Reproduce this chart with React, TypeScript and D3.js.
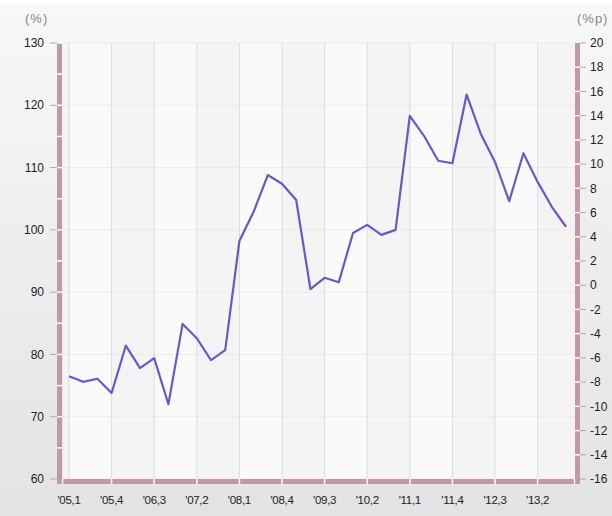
import React from 'react';
import * as d3 from 'd3';

// quarters '05,1 .. '13,4
const years = ['05', '06', '07', '08', '09', '10', '11', '12', '13'];
const quarters = years.flatMap(y => [1, 2, 3, 4].map(q => `'${y},${q}`));

// index (%) per quarter
const values = [
  76.5, 75.6, 76.1, 73.8, 81.4, 77.8, 79.4, 72.0,
  84.9, 82.6, 79.1, 80.7, 98.2, 102.9, 108.8, 107.4,
  104.8, 90.5, 92.3, 91.6, 99.5, 100.8, 99.2, 100.0,
  118.3, 115.1, 111.1, 110.7, 121.7, 115.4, 110.9, 104.6,
  112.3, 107.7, 103.7, 100.5,
];

const leftTicks = [60, 70, 80, 90, 100, 110, 120, 130];
const rightTicks = [-16, -14, -12, -10, -8, -6, -4, -2, 0, 2, 4, 6, 8, 10, 12, 14, 16, 18, 20];
const labelEvery = 3;

const W = 612, H = 516;
const plot = { left: 63, right: 575, top: 43, bottom: 479 };
const barW = 5;
const pink = '#bf9aa4';
const font = '"Liberation Sans", Arial, sans-serif';

const App = () => {
  const x = d3.scaleLinear().domain([0, quarters.length - 1]).range([69, 566]);
  const y = d3.scaleLinear().domain([60, 130]).range([plot.bottom, plot.top]);
  const y2 = d3.scaleLinear().domain([-16, 20]).range([plot.bottom, plot.top]);

  const line = d3.line<number>()
    .x((_, i) => x(i))
    .y(d => y(d));

  const labelIdx = quarters.map((_, i) => i).filter(i => i % labelEvery === 0);
  const halfTicks = d3.range(60, 131, 5);

  // alternating column bands between grid lines
  const bandEdges = [plot.left, ...labelIdx.map(i => x(i)), plot.right];

  return (
    <svg width={W} height={H} style={{ position: 'absolute', left: 0, top: 0 }} fontFamily={font}>
      <defs>
        <linearGradient id="bg" x1="0" y1="0" x2="0" y2="1">
          <stop offset="0" stopColor="#f8f8f8" />
          <stop offset="1" stopColor="#e3e3e3" />
        </linearGradient>
      </defs>
      <rect x={0} y={0} width={W} height={H} fill="url(#bg)" />
      <rect x={0} y={0} width={W} height={5} fill="#ffffff" />

      {/* plot area */}
      <rect x={plot.left} y={plot.top} width={plot.right - plot.left} height={plot.bottom - plot.top} fill="#f8f8f8" />
      {bandEdges.slice(0, -1).map((x0, i) => (
        <rect key={i} x={x0} y={plot.top} width={bandEdges[i + 1] - x0} height={plot.bottom - plot.top}
          fill={i % 2 === 1 ? '#fafafa' : '#f4f4f4'} />
      ))}

      {/* horizontal grid */}
      {leftTicks.map(t => (
        <line key={t} x1={plot.left} x2={plot.right} y1={y(t)} y2={y(t)} stroke="#ebebeb" />
      ))}
      {/* vertical grid */}
      {labelIdx.map(i => (
        <line key={i} x1={x(i)} x2={x(i)} y1={plot.top} y2={plot.bottom} stroke="#dcdcdc" />
      ))}

      {/* left axis bar */}
      <rect x={plot.left - barW - 1} y={plot.top} width={barW} height={plot.bottom - plot.top + barW} fill={pink} />
      {halfTicks.slice(1).map(t => (
        <line key={t} x1={plot.left - barW - 1} x2={plot.left - 1} y1={y(t)} y2={y(t)} stroke="#ffffff" strokeWidth={1.5} />
      ))}
      {leftTicks.map(t => (
        <g key={t}>
          <line x1={plot.left - barW - 8} x2={plot.left - barW - 1} y1={y(t)} y2={y(t)} stroke="#aaaaaa" />
          <text x={44} y={y(t)} dy="0.35em" textAnchor="end" fontSize={12} fill="#222">{t}</text>
        </g>
      ))}

      {/* right axis bar */}
      <rect x={plot.right} y={plot.top} width={barW} height={plot.bottom - plot.top + barW} fill={pink} />
      {rightTicks.map(t => (
        <g key={t}>
          {t !== -16 && t !== 20 && (
            <line x1={plot.right} x2={plot.right + barW} y1={y2(t)} y2={y2(t)} stroke="#ffffff" strokeWidth={1.5} />
          )}
          <line x1={plot.right + barW} x2={plot.right + barW + 6} y1={y2(t)} y2={y2(t)} stroke="#aaaaaa" />
          <text x={590} y={y2(t)} dy="0.35em" textAnchor="start" fontSize={12} fill="#222">{t}</text>
        </g>
      ))}

      {/* bottom bar */}
      <rect x={plot.left - barW - 1} y={plot.bottom} width={plot.right - plot.left + 2 * barW + 1} height={barW} fill={pink} />
      {[plot.left - 0.5, ...labelIdx.slice(1).map(i => x(i)), plot.right - 0.5].map((gx, k) => (
        <line key={k} x1={gx} x2={gx} y1={plot.bottom} y2={plot.bottom + barW} stroke="#ffffff" strokeWidth={1.5} />
      ))}

      {/* x labels */}
      {labelIdx.map(i => (
        <text key={i} x={x(i)} y={500} dy="0.35em" textAnchor="middle" fontSize={11.5} fill="#222" letterSpacing={-0.3}>
          {quarters[i]}
        </text>
      ))}

      {/* axis titles */}
      <text x={25} y={18} dy="0.35em" fontSize={13} fill="#888" letterSpacing={1}>(%)</text>
      <text x={577} y={18} dy="0.35em" fontSize={13} fill="#888" letterSpacing={1}>(%p)</text>

      {/* series */}
      <path d={line(values) || ''} fill="none" stroke="#6759cc" strokeWidth={2.2} strokeLinejoin="round" />
    </svg>
  );
};

export default App;
